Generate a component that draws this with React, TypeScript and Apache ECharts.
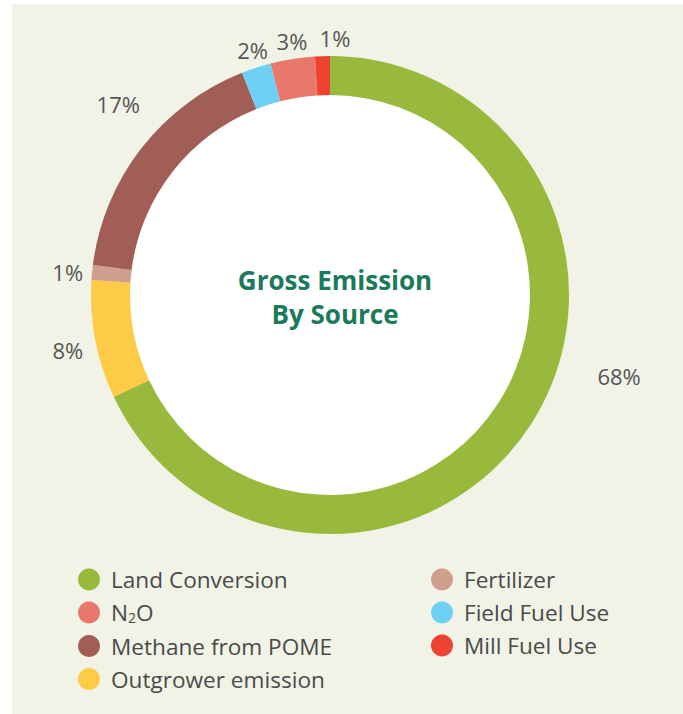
import React, { useEffect, useRef } from "react";
import * as echarts from "echarts";

const categories = [
  "Land Conversion",
  "Outgrower emission",
  "Fertilizer",
  "Methane from POME",
  "Field Fuel Use",
  "N2O",
  "Mill Fuel Use",
];
const values = [68, 8, 1, 17, 2, 3, 1];
const colors = ["#98b93c", "#fecb47", "#d09e8c", "#a15e56", "#6fd0f6", "#e8786c", "#ee4233"];
const legendLeft = ["Land Conversion", "N2O", "Methane from POME", "Outgrower emission"];
const legendRight = ["Fertilizer", "Field Fuel Use", "Mill Fuel Use"];

const FONT = "'Open Sans', 'Noto Sans', sans-serif";
const CENTER = [330, 295];
const INNER = 200;
const OUTER = 239;
const LABEL_GAP = 2;
const LABEL_PAD_X = 10;
const LABEL_PAD_Y = 4;
// manual nudges of some labels, as in the reference
const LABEL_SHIFTS: Record<number, number[]> = {
  0: [62, -63],
  1: [0, 5],
  2: [3, 2],
  3: [-2, -28],
  4: [2, -1],
  5: [2, -1],
  6: [13, -1],
};

export default function App() {
  const ref = useRef<HTMLDivElement>(null);
  useEffect(() => {
    if (!ref.current) return;
    const chart = echarts.init(ref.current, undefined, { renderer: "svg" });
    const legendCommon = {
      orient: "vertical",
      icon: "circle",
      itemWidth: 34,
      itemHeight: 22,
      itemGap: 10,
      top: 563,
      selectedMode: false,
      formatter: (name: string) => (name === "N2O" ? "{n|N}{s|2}{n|O}" : name),
      textStyle: {
        fontFamily: FONT,
        fontSize: 22.6,
        color: "#4a4a4a",
        rich: {
          n: { fontFamily: FONT, fontSize: 22.6, color: "#4a4a4a" },
          s: { fontFamily: FONT, fontSize: 14, color: "#4a4a4a", verticalAlign: "bottom", lineHeight: 24 },
        },
      },
    };
    const mainData = categories.map((name, i) => ({
      name,
      value: values[i],
      itemStyle: { color: colors[i] },
    }));
    chart.setOption({
      animation: false,
      backgroundColor: "#ffffff",
      graphic: [
        { type: "rect", z: -10, shape: { x: 12, y: 4, width: 671, height: 710 }, style: { fill: "#f1f3e7" } },
        { type: "circle", z: -5, shape: { cx: CENTER[0], cy: CENTER[1], r: INNER }, style: { fill: "#ffffff" } },
      ],
      title: {
        text: "Gross Emission\nBy Source",
        left: CENTER[0],
        top: 257.5,
        textAlign: "center",
        textStyle: {
          fontFamily: FONT,
          fontSize: 26,
          fontWeight: "bold",
          color: "#1b7a5b",
          lineHeight: 34,
        },
      },
      legend: [
        { ...legendCommon, left: 73, data: legendLeft },
        { ...legendCommon, left: 426, data: legendRight },
      ],
      series: [
        {
          type: "pie",
          center: CENTER,
          radius: [INNER, OUTER],
          startAngle: 90,
          clockwise: true,
          silent: true,
          avoidLabelOverlap: false,
          label: {
            show: true,
            position: "inside",
            formatter: "{c}%",
            fontFamily: FONT,
            fontSize: 22,
            color: "#555555",
          },
          labelLine: { show: false },
          labelLayout: (p: any) => {
            const r = p.labelRect;
            const cx = r.x + r.width / 2;
            const cy = r.y + r.height / 2;
            const dx = cx - CENTER[0];
            const dy = cy - CENTER[1];
            const len = Math.hypot(dx, dy) || 1;
            const ux = dx / len;
            const uy = dy / len;
            const ext = Math.min(
              (r.width / 2 + LABEL_PAD_X) / Math.max(Math.abs(ux), 1e-6),
              (r.height / 2 + LABEL_PAD_Y) / Math.max(Math.abs(uy), 1e-6)
            );
            const d = OUTER + LABEL_GAP + ext;
            const s = LABEL_SHIFTS[p.dataIndex] || [0, 0];
            return {
              x: CENTER[0] + ux * d + s[0],
              y: CENTER[1] + uy * d + s[1],
              align: "center",
              verticalAlign: "middle",
            };
          },
          data: mainData,
        },
      ],
    });
    return () => chart.dispose();
  }, []);
  return <div ref={ref} style={{ position: "fixed", left: 0, top: 0, width: 683, height: 714 }} />;
}
